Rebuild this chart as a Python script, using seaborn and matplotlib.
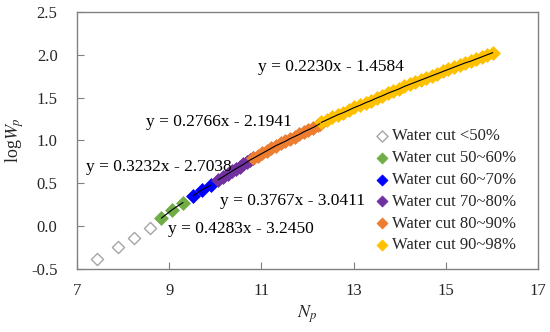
import matplotlib
matplotlib.use("Agg")
import matplotlib.pyplot as plt
import seaborn as sns
import numpy as np
import pandas as pd

# values
np_lt50 = [7.43, 7.89, 8.23, 8.58]
lw_lt50 = [-0.39, -0.245, -0.134, -0.017]

np_50_60 = [8.83, 9.07, 9.30]
lw_50_60 = [0.093, 0.193, 0.275]

np_60_70 = [9.52, 9.71, 9.90]
lw_60_70 = [0.353, 0.423, 0.478]

np_70_80 = [10.06, 10.17, 10.27, 10.36, 10.45, 10.53, 10.61, 10.68, 10.75, 10.82]
lw_70_80 = [0.54, 0.575, 0.61, 0.64, 0.67, 0.695, 0.72, 0.745, 0.77, 0.79]

np_80_90 = [10.82, 10.92, 11.02, 11.12, 11.22, 11.32, 11.42, 11.52, 11.62, 11.72,
            11.82, 11.92, 12.02, 12.12, 12.22, 12.27]
lw_80_90 = [0.79, 0.82, 0.85, 0.88, 0.91, 0.94, 0.965, 0.99, 1.02, 1.045,
            1.07, 1.10, 1.125, 1.15, 1.18, 1.195]

np_90_98 = [12.30, 12.42, 12.54, 12.66, 12.78, 12.90, 13.02, 13.14, 13.26, 13.38,
            13.50, 13.62, 13.74, 13.86, 13.98, 14.10, 14.22, 14.34, 14.46, 14.58,
            14.70, 14.82, 14.94, 15.06, 15.18, 15.30, 15.42, 15.54, 15.66, 15.78,
            15.90, 16.02]
lw_90_98 = [1.21, 1.24, 1.27, 1.30, 1.325, 1.355, 1.385, 1.41, 1.44, 1.465,
            1.495, 1.52, 1.55, 1.575, 1.60, 1.63, 1.655, 1.68, 1.705, 1.73,
            1.755, 1.78, 1.805, 1.83, 1.855, 1.88, 1.905, 1.925, 1.95, 1.975,
            2.00, 2.025]

labels = ["Water cut <50%", "Water cut 50~60%", "Water cut 60~70%",
          "Water cut 70~80%", "Water cut 80~90%", "Water cut 90~98%"]
colors = ["#A6A6A6", "#70AD47", "#0000FF", "#7030A0", "#ED7D31", "#FFC000"]

equations = ["y = 0.4283x - 3.2450", "y = 0.3767x - 3.0411", "y = 0.3232x - 2.7038",
             "y = 0.2766x - 2.1941", "y = 0.2230x - 1.4584"]
eq_pos = [(8.98, -0.034), (10.10, 0.295), (7.195, 0.694), (8.49, 1.211), (10.93, 1.855)]

xs = [np_lt50, np_50_60, np_60_70, np_70_80, np_80_90, np_90_98]
ys = [lw_lt50, lw_50_60, lw_60_70, lw_70_80, lw_80_90, lw_90_98]
df = pd.concat([pd.DataFrame({"Np": x, "logWp": y, "group": g})
                for x, y, g in zip(xs, ys, labels)], ignore_index=True)

sns.set_style("white")
plt.rcParams["font.family"] = ["Liberation Serif", "DejaVu Serif"]
plt.rcParams["mathtext.fontset"] = "stix"
plt.rcParams["axes.unicode_minus"] = False

fig = plt.figure(figsize=(5.5, 3.32), dpi=100)
ax = fig.add_axes([0.14, 0.19, 0.838, 0.774])

for i, (g, c) in enumerate(zip(labels, colors)):
    sub = df[df["group"] == g]
    if i == 0:
        sns.scatterplot(data=sub, x="Np", y="logWp", marker="D", s=38,
                        facecolor="white", edgecolor=c, linewidth=1.0,
                        label=g, ax=ax, zorder=3)
    else:
        sns.scatterplot(data=sub, x="Np", y="logWp", marker="D", s=50,
                        color=c, edgecolor=c, linewidth=0.5,
                        label=g, ax=ax, zorder=3)
        sns.lineplot(data=sub, x="Np", y="logWp", color="black", lw=0.8,
                     sort=False, estimator=None, legend=False, ax=ax, zorder=4)

for txt, (tx, ty) in zip(equations, eq_pos):
    ax.text(tx, ty, txt, fontsize=12.5, ha="left", va="center", color="black")

ax.set_xlim(7, 17)
ax.set_ylim(-0.5, 2.5)
ax.set_xticks([7, 9, 11, 13, 15, 17])
ax.set_yticks([-0.5, 0.0, 0.5, 1.0, 1.5, 2.0, 2.5])
ax.set_yticklabels(["-0.5", "0.0", "0.5", "1.0", "1.5", "2.0", "2.5"])
ax.tick_params(axis="both", direction="in", length=5, width=0.8, color="#808080",
               labelsize=12, bottom=True, left=True)
ax.tick_params(axis="y", pad=14)
ax.tick_params(axis="x", pad=10)
for sp in ax.spines.values():
    sp.set_color("#808080")
    sp.set_linewidth(1.0)

ax.set_xlabel("$N_p$", fontsize=13, labelpad=3)
ax.set_ylabel("log$W_p$", fontsize=13, labelpad=4)

leg = ax.legend(loc="lower right", bbox_to_anchor=(0.978, 0.015), frameon=False,
                fontsize=12, handletextpad=0.1, labelspacing=0.35,
                handlelength=1.0, borderaxespad=0.3)
for h in leg.legend_handles:
    h.set_sizes([32])

fig.savefig("out.png", dpi=100)
